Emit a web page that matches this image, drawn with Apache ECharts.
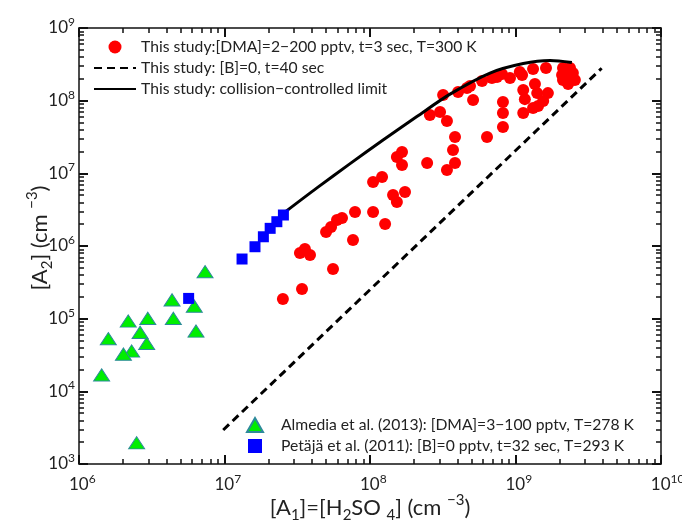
<!DOCTYPE html>
<html><head><meta charset="utf-8">
<script src="https://cdn.jsdelivr.net/npm/echarts@6/dist/echarts.min.js"></script>
<style>html,body{margin:0;padding:0;background:#fff}#c{width:682px;height:524px}</style>
</head><body><div id="c"></div>
<script>
// ---- Data ----
const xTicks = [1e6, 1e7, 1e8, 1e9, 1e10];
const yTicks = [1e3, 1e4, 1e5, 1e6, 1e7, 1e8, 1e9];

const redName = 'This study:[DMA]=2\u2212200 pptv, t=3 sec, T=300 K';
const redX = [2.52e7,3.41e7,5.57e7,3.30e7,3.57e7,3.87e7,4.99e7,5.40e7,5.93e7,6.42e7,
  7.64e7,7.89e7,1.05e8,1.27e8,1.05e8,1.21e8,1.44e8,1.53e8,1.74e8,1.53e8,
  1.66e8,1.66e8,2.47e8,2.58e8,3.03e8,3.18e8,3.38e8,3.84e8,3.72e8,3.84e8,
  3.38e8,4.03e8,4.64e8,4.87e8,5.11e8,5.89e8,6.37e8,6.89e8,7.46e8,8.07e8,
  8.20e8,8.20e8,8.20e8,9.17e8,1.07e9,1.11e9,1.13e9,1.16e9,1.13e9,1.32e9,
  1.36e9,1.41e9,1.32e9,1.43e9,1.55e9,1.67e9,1.62e9,2.12e9,2.37e9,2.48e9,
  2.56e9,2.12e9,2.30e9,2.09e9,2.41e9];
const redY = [1.87e5,2.56e5,4.82e5,8.01e5,9.10e5,7.52e5,1.56e6,1.82e6,2.28e6,2.43e6,
  1.21e6,2.94e6,2.94e6,2.01e6,7.60e6,8.90e6,5.03e6,4.03e6,5.53e6,1.68e7,
  1.96e7,1.30e7,1.39e7,6.35e7,6.98e7,1.20e8,5.25e7,3.16e7,2.09e7,1.39e7,
  1.11e7,1.32e8,1.49e8,1.59e8,1.02e8,1.86e8,3.16e7,2.05e8,2.12e8,2.33e8,
  9.58e7,6.76e7,4.34e7,2.05e8,2.48e8,2.25e8,1.40e8,1.05e8,6.76e7,2.73e8,
  1.69e8,1.27e8,7.92e7,8.44e7,9.89e7,1.27e8,2.81e8,2.81e8,2.81e8,2.40e8,
  1.92e8,1.92e8,1.69e8,2.25e8,2.05e8];

const dashName = 'This study: [B]=0, t=40 sec';
const dashX = [9.8e6, 3.91e9];
const dashY = [2.94e3, 2.79e8];

const curveName = 'This study: collision\u2212controlled limit';
const curveX = [2.61e7,4.32e7,7.3e7,1.23e8,2.1e8,3.55e8,6.68e8,1.13e9,1.73e9,2.44e9];
const curveY = [2.94e6,6.31e6,1.36e7,2.88e7,6.05e7,1.23e8,2.40e8,3.24e8,3.57e8,3.35e8];

const greenName = 'Almedia et al. (2013): [DMA]=3\u2212100 pptv, T=278 K';
const greenX = [7.35e6,4.36e6,6.2e6,4.45e6,2.97e6,2.18e6,6.37e6,2.63e6,1.59e6,2.92e6,2.30e6,2.02e6,1.43e6,2.49e6];
const greenY = [4.43e5,1.81e5,1.49e5,1.01e5,1.01e5,9.29e4,6.76e4,6.49e4,5.30e4,4.58e4,3.59e4,3.26e4,1.68e4,1.96e3];

const blueName = 'Pet\u00e4j\u00e4 et al. (2011): [B]=0 pptv, t=32 sec, T=293 K';
const blueX = [5.67e6,1.32e7,1.62e7,1.85e7,2.06e7,2.29e7,2.54e7];
const blueY = [1.9e5,6.62e5,9.77e5,1.34e6,1.75e6,2.16e6,2.67e6];

// ---- Helpers ----
const zip = (a, b) => a.map((v, i) => [v, b[i]]);
const FONT = 'Lato';
const TXT = '#222';
const tickRich = {
  m: { fontSize: 17, lineHeight: 24, fontFamily: FONT, color: TXT },
  s: { fontSize: 12, lineHeight: 10, verticalAlign: 'top', fontFamily: FONT, color: TXT },
  p: { fontSize: 12, lineHeight: 10 }
};
function expLabel(v, pad) {
  const e = String(Math.round(Math.log10(v)));
  const p = pad ? '{p|' + '\u2007'.repeat(e.length) + '}' : '';
  return p + '{m|10}{s|' + e + '}';
}
const titleRich = {
  t: { fontSize: 22, lineHeight: 30, fontFamily: FONT, color: TXT },
  sub: { fontSize: 15, lineHeight: 14, verticalAlign: 'bottom', fontFamily: FONT, color: TXT },
  sup: { fontSize: 15, lineHeight: 14, verticalAlign: 'top', fontFamily: FONT, color: TXT }
};

function makeAxes(dim) {
  const isX = dim === 'x';
  const ticks = isX ? xTicks : yTicks;
  const sides = isX ? ['bottom', 'top'] : ['left', 'right'];
  return sides.map((side, si) => {
    const ax = {
      type: 'log', min: ticks[0], max: ticks[ticks.length - 1],
      position: side, splitLine: { show: false },
      axisLine: { show: true, onZero: false, lineStyle: { color: '#111', width: 1.5 } },
      axisTick: { show: true, inside: true, length: 9, lineStyle: { color: '#111', width: 2 } },
      minorTick: { show: true, splitNumber: 9, length: 5, lineStyle: { color: '#111', width: 1.5 } },
      axisLabel: si === 0 ? {
        show: true, margin: isX ? 9 : 4, showMinLabel: true, showMaxLabel: true,
        formatter: v => expLabel(v, isX), rich: tickRich
      } : { show: true, color: 'rgba(0,0,0,0)' }
    };
    if (si === 0) {
      ax.nameLocation = 'middle';
      ax.nameMoveOverlap = false;
      if (isX) {
        ax.name = '{t|[A}{sub|1}{t|]=[H}{sub|2}{t|SO }{sub|4}{t|] (cm }{sup|\u22123}{t|)}';
        ax.nameGap = 29;
        ax.nameTextStyle = { rich: titleRich };
      } else {
        ax.name = '{t|[A}{sub|2}{t|] (cm }{sup|\u22123}{t|)}';
        ax.nameGap = 24;
        ax.nameRotate = 90;
        ax.nameTextStyle = { rich: titleRich, padding: [0, 0, 0, 16] };
      }
    }
    return ax;
  });
}

const triPath = 'path://M8,0 L16,14 L0,14 Z';
const sqPath = 'path://M0,0 L10,0 L10,10 L0,10 Z';
const legendText = { fontSize: 15.7, lineHeight: 16, color: TXT, fontFamily: FONT };
const chart = echarts.init(document.getElementById('c'));
chart.setOption({
  animation: false,
  grid: { left: 79, top: 28, width: 582, height: 436, outerBoundsMode: 'none' },
  xAxis: makeAxes('x'),
  yAxis: makeAxes('y'),
  legend: [
    {
      data: [
        { name: redName },
        { name: dashName, itemStyle: { opacity: 0 } },
        { name: curveName, itemStyle: { opacity: 0 } }
      ],
      orient: 'vertical', left: 93, top: 39, padding: 0, symbolKeepAspect: true,
      itemWidth: 42, itemHeight: 13, itemGap: 5, selectedMode: false, textStyle: legendText
    },
    {
      data: [greenName, blueName], orient: 'vertical', left: 246, top: 417, padding: 0, symbolKeepAspect: true,
      itemWidth: 42, itemHeight: 14, itemGap: 5, selectedMode: false, textStyle: legendText
    }
  ],
  series: [
    { name: redName, type: 'scatter', data: zip(redX, redY), symbol: 'circle', symbolSize: 12,
      itemStyle: { color: '#ff0000', opacity: 1 }, z: 2 },
    { name: dashName, type: 'line', data: zip(dashX, dashY), symbol: 'none',
      lineStyle: { color: '#000', width: 3, type: [8, 5] }, itemStyle: { color: '#000' }, z: 3 },
    { name: curveName, type: 'line', data: zip(curveX, curveY), symbol: 'none', smooth: 0.3,
      lineStyle: { color: '#000', width: 3 }, itemStyle: { color: '#000' }, z: 3 },
    { name: greenName, type: 'scatter', data: zip(greenX, greenY), symbol: triPath, symbolSize: [16, 14], symbolKeepAspect: true,
      itemStyle: { color: '#00ee00', borderColor: '#2d8a9a', borderWidth: 1, opacity: 1 }, z: 4 },
    { name: blueName, type: 'scatter', data: zip(blueX, blueY), symbol: sqPath, symbolSize: 11, symbolKeepAspect: true,
      itemStyle: { color: '#0000ff', opacity: 1 }, z: 5 }
  ]
});
</script></body></html>
